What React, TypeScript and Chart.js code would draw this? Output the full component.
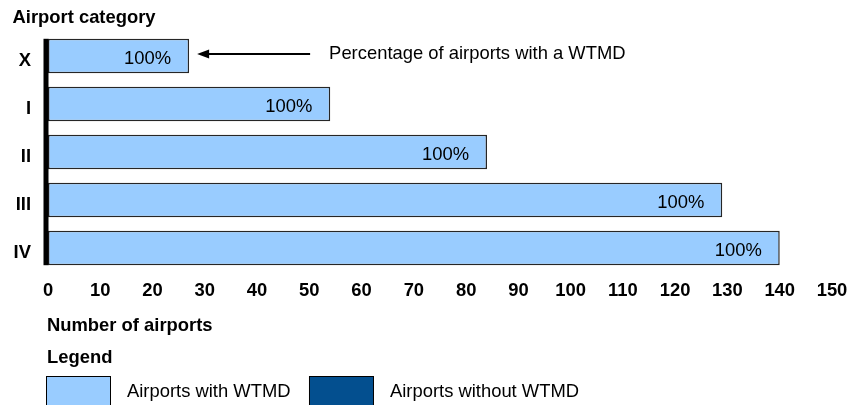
import React, { useEffect, useRef } from 'react';
import { Chart, registerables } from 'chart.js';

Chart.register(...registerables);

const categories = ['X', 'I', 'II', 'III', 'IV'];
const withWTMD = [27, 54, 84, 129, 140];
const withoutWTMD = [0, 0, 0, 0, 0];
const seriesLabels = ['Airports with WTMD', 'Airports without WTMD'];
const seriesColors = ['#99CCFF', '#034F8F'];
const xTicks = [0, 10, 20, 30, 40, 50, 60, 70, 80, 90, 100, 110, 120, 130, 140, 150];
const yAxisTitle = 'Airport category';
const xAxisTitle = 'Number of airports';
const legendTitle = 'Legend';
const annotationText = 'Percentage of airports with a WTMD';

const FONT = '"Liberation Sans", Arial, Helvetica, sans-serif';
const SIZE = 18.4;

const overlayPlugin = {
  id: 'overlay',
  afterDatasetsDraw(chart: any) {
    const ctx = chart.ctx as CanvasRenderingContext2D;
    const bars = chart.getDatasetMeta(0).data as any[];
    const ca = chart.chartArea;
    ctx.save();

    // thick left axis line spanning the bars
    const first = bars[0];
    const last = bars[bars.length - 1];
    const top = first.y - first.height / 2;
    const bottom = last.y + last.height / 2;
    ctx.fillStyle = '#000';
    ctx.fillRect(ca.left - 4.5, top, 5, bottom - top);

    // percentage labels
    ctx.font = `${SIZE}px ${FONT}`;
    ctx.textAlign = 'right';
    ctx.textBaseline = 'alphabetic';
    bars.forEach((b: any, i: number) => {
      const total = withWTMD[i] + withoutWTMD[i];
      const pct = Math.round((withWTMD[i] / total) * 100);
      ctx.fillText(pct + '%', b.x - 18, b.y + 8);
    });

    // annotation arrow
    const b0 = bars[0];
    const ay = b0.y - 2;
    ctx.strokeStyle = '#000';
    ctx.lineWidth = 2.2;
    ctx.beginPath();
    ctx.moveTo(b0.x + 16, ay);
    ctx.lineTo(b0.x + 121, ay);
    ctx.stroke();
    ctx.beginPath();
    ctx.moveTo(b0.x + 8, ay);
    ctx.lineTo(b0.x + 20, ay - 4.5);
    ctx.lineTo(b0.x + 20, ay + 4.5);
    ctx.closePath();
    ctx.fill();
    ctx.textAlign = 'left';
    ctx.fillText(annotationText, b0.x + 140, b0.y + 2.5);

    // titles
    ctx.font = `bold ${SIZE}px ${FONT}`;
    ctx.fillText(yAxisTitle, 12.5, 23);
    ctx.fillText(xAxisTitle, ca.left - 1, 331);
    ctx.fillText(legendTitle, ca.left - 1, 363);

    // legend
    let x = ca.left - 1.5;
    const boxY = 376.5;
    seriesLabels.forEach((label, i) => {
      ctx.fillStyle = seriesColors[i];
      ctx.fillRect(x, boxY, 64, 40);
      ctx.strokeStyle = '#000';
      ctx.lineWidth = 1;
      ctx.strokeRect(x, boxY, 64, 40);
      ctx.fillStyle = '#000';
      ctx.font = `${SIZE}px ${FONT}`;
      ctx.fillText(label, x + 80.5, 397);
      x = x + 80.5 + ctx.measureText(label).width + 19;
    });

    ctx.restore();
  },
};

export default function App() {
  const ref = useRef<HTMLCanvasElement>(null);

  useEffect(() => {
    document.body.style.margin = '0';
    const canvas = ref.current;
    if (!canvas) return;
    const tickFont = { family: FONT, size: SIZE, weight: 'bold' as const };
    const chart = new Chart(canvas, {
      type: 'bar',
      data: {
        labels: categories,
        datasets: [
          {
            label: seriesLabels[0],
            data: withWTMD,
            backgroundColor: seriesColors[0],
            borderColor: '#262626',
            borderWidth: 1.5,
            borderSkipped: false,
            barPercentage: 0.717,
            categoryPercentage: 1,
          },
          {
            label: seriesLabels[1],
            data: withoutWTMD,
            backgroundColor: seriesColors[1],
            borderColor: '#000',
            borderWidth: 0,
            barPercentage: 0.717,
            categoryPercentage: 1,
          },
        ],
      },
      options: {
        indexAxis: 'y',
        responsive: false,
        animation: false,
        layout: { padding: { top: 32, right: 33, bottom: 0, left: 0 } },
        plugins: {
          legend: { display: false },
          tooltip: { enabled: false },
          title: { display: false },
        },
        scales: {
          x: {
            stacked: true,
            min: xTicks[0],
            max: xTicks[xTicks.length - 1],
            ticks: {
              stepSize: xTicks[1] - xTicks[0],
              autoSkip: false,
              color: '#000',
              font: tickFont,
              padding: 8,
              maxRotation: 0,
            },
            grid: { display: false, drawTicks: false },
            border: { display: false },
            afterFit: (s: any) => {
              s.height = 133;
            },
          },
          y: {
            stacked: true,
            ticks: {
              color: '#000',
              font: tickFont,
              padding: 17,
              labelOffset: 5,
            },
            grid: { display: false, drawTicks: false },
            border: { display: false },
            afterFit: (s: any) => {
              s.width = 48;
            },
          },
        },
      },
      plugins: [overlayPlugin],
    });
    return () => chart.destroy();
  }, []);

  return (
    <div style={{ position: 'absolute', left: 0, top: 0, width: 865, height: 405, background: '#fff' }}>
      <canvas ref={ref} width={865} height={405} style={{ display: 'block' }} />
    </div>
  );
}
